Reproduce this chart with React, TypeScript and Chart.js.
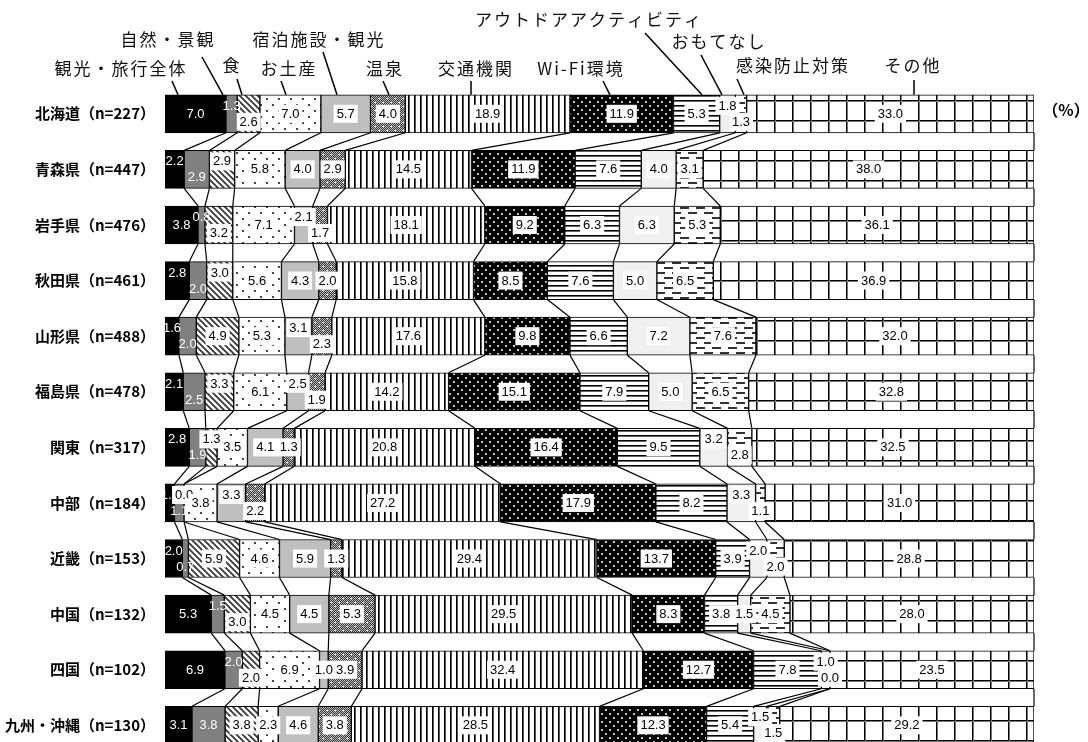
import React, { useEffect, useRef } from 'react';
import { Chart, registerables } from 'chart.js';

Chart.register(...registerables);

// ---------------- data ----------------
const regionLabels = [
  '北海道（n=227）',
  '青森県（n=447）',
  '岩手県（n=476）',
  '秋田県（n=461）',
  '山形県（n=488）',
  '福島県（n=478）',
  '関東（n=317）',
  '中部（n=184）',
  '近畿（n=153）',
  '中国（n=132）',
  '四国（n=102）',
  '九州・沖縄（n=130）',
];

const seriesNames = [
  '観光・旅行全体',
  '自然・景観',
  '食',
  'お土産',
  '宿泊施設・観光',
  '温泉',
  '交通機関',
  'Wi-Fi環境',
  'アウトドアアクティビティ',
  'おもてなし',
  '感染防止対策',
  'その他',
];

const kankou = [7.0, 2.2, 3.8, 2.8, 1.6, 2.1, 2.8, 1.1, 2.0, 5.3, 6.9, 3.1];
const shizen = [1.3, 2.9, 0.8, 2.0, 2.0, 2.5, 1.9, 1.1, 0.7, 1.5, 2.0, 3.8];
const shoku = [2.6, 2.9, 3.2, 3.0, 4.9, 3.3, 1.3, 0.0, 5.9, 3.0, 2.0, 3.8];
const omiyage = [7.0, 5.8, 7.1, 5.6, 5.3, 6.1, 3.5, 3.8, 4.6, 4.5, 6.9, 2.3];
const shukuhaku = [5.7, 4.0, 2.1, 4.3, 3.1, 2.5, 4.1, 3.3, 5.9, 4.5, 1.0, 4.6];
const onsen = [4.0, 2.9, 1.7, 2.0, 2.3, 1.9, 1.3, 2.2, 1.3, 5.3, 3.9, 3.8];
const koutsu = [18.9, 14.5, 18.1, 15.8, 17.6, 14.2, 20.8, 27.2, 29.4, 29.5, 32.4, 28.5];
const wifi = [11.9, 11.9, 9.2, 8.5, 9.8, 15.1, 16.4, 17.9, 13.7, 8.3, 12.7, 12.3];
const outdoor = [5.3, 7.6, 6.3, 7.6, 6.6, 7.9, 9.5, 8.2, 3.9, 3.8, 7.8, 5.4];
const omotenashi = [1.8, 4.0, 6.3, 5.0, 7.2, 5.0, 3.2, 3.3, 2.0, 1.5, 1.0, 1.5];
const kansen = [1.3, 3.1, 5.3, 6.5, 7.6, 6.5, 2.8, 1.1, 2.0, 4.5, 0.0, 1.5];
const sonota = [33.0, 38.0, 36.1, 36.9, 32.0, 32.8, 32.5, 31.0, 28.8, 28.0, 23.5, 29.2];

const seriesValues = [
  kankou, shizen, shoku, omiyage, shukuhaku, onsen,
  koutsu, wifi, outdoor, omotenashi, kansen, sonota,
];

// ---------------- layout of the header annotations (page px) ----------------
const headerLayout = [
  { x: 120, y: 69, lx: 172, ly: 81, tx: 178 },
  { x: 167, y: 40, lx: 202, ly: 57, tx: 223 },
  { x: 231, y: 66, lx: 237, ly: 79, tx: 242 },
  { x: 288, y: 69, lx: 281, ly: 81, tx: 286 },
  { x: 318, y: 40, lx: 323, ly: 52, tx: 337 },
  { x: 384, y: 69, lx: 383, ly: 81, tx: 389 },
  { x: 475, y: 69, lx: 471, ly: 81, tx: 471 },
  { x: 580, y: 69, lx: 603, ly: 81, tx: 610 },
  { x: 588, y: 20, lx: 645, ly: 33, tx: 702 },
  { x: 718, y: 42, lx: 701, ly: 55, tx: 722 },
  { x: 792, y: 66, lx: 737, ly: 79, tx: 744 },
  { x: 912, y: 66, lx: 914, ly: 80, tx: 914 },
];

const CJK = '"Noto Sans CJK JP", "Noto Sans", sans-serif';
const NUM = '"Liberation Sans", Arial, sans-serif';

function makeTile(ctx: CanvasRenderingContext2D, w: number, h: number, draw: (g: CanvasRenderingContext2D) => void) {
  const c = document.createElement('canvas');
  c.width = w;
  c.height = h;
  const g = c.getContext('2d')!;
  draw(g);
  return ctx.createPattern(c, 'repeat')!;
}

function makeFills(ctx: CanvasRenderingContext2D) {
  const diag = makeTile(ctx, 6, 6, (g) => {
    g.fillStyle = '#fff';
    g.fillRect(0, 0, 6, 6);
    g.strokeStyle = '#333';
    g.lineWidth = 1.7;
    g.beginPath();
    g.moveTo(-1, -1); g.lineTo(7, 7);
    g.moveTo(-1, 5); g.lineTo(1, 7);
    g.moveTo(5, -1); g.lineTo(7, 1);
    g.stroke();
  });
  const sparseDots = makeTile(ctx, 12, 12, (g) => {
    g.fillStyle = '#fff';
    g.fillRect(0, 0, 12, 12);
    g.fillStyle = '#444';
    g.fillRect(2, 2, 2, 2);
    g.fillRect(8, 8, 2, 2);
  });
  const checker = makeTile(ctx, 8, 8, (g) => {
    for (let y = 0; y < 8; y++) {
      for (let x = 0; x < 8; x++) {
        g.fillStyle = (x + y) % 2 ? '#333' : '#c0c0c0';
        g.fillRect(x, y, 1, 1);
      }
    }
    g.fillStyle = '#fff';
    g.fillRect(2, 2, 2, 1);
    g.fillRect(6, 6, 2, 1);
  });
  const vertical = makeTile(ctx, 6, 6, (g) => {
    g.fillStyle = '#fff';
    g.fillRect(0, 0, 6, 6);
    g.fillStyle = '#000';
    g.fillRect(0, 0, 1, 6);
    g.fillStyle = '#555';
    g.fillRect(1, 0, 1, 6);
  });
  const darkDots = makeTile(ctx, 8, 8, (g) => {
    g.fillStyle = '#000';
    g.fillRect(0, 0, 8, 8);
    g.fillStyle = '#c8c8c8';
    g.fillRect(1, 1, 2, 2);
    g.fillRect(5, 5, 2, 2);
  });
  const horizontal = makeTile(ctx, 6, 5, (g) => {
    g.fillStyle = '#fff';
    g.fillRect(0, 0, 6, 5);
    g.fillStyle = '#000';
    g.fillRect(0, 0, 6, 1);
    g.fillStyle = '#666';
    g.fillRect(0, 1, 6, 1);
  });
  const dashes = makeTile(ctx, 16, 10, (g) => {
    g.fillStyle = '#fff';
    g.fillRect(0, 0, 16, 10);
    g.fillStyle = '#333';
    g.fillRect(0, 2, 9, 2);
    g.fillRect(8, 7, 8, 2);
    g.fillRect(0, 7, 1, 2);
  });
  const grid = makeTile(ctx, 18, 20, (g) => {
    g.fillStyle = '#fff';
    g.fillRect(0, 0, 18, 20);
    g.fillStyle = '#000';
    g.fillRect(0, 0, 1, 20);
    g.fillRect(0, 0, 18, 1);
    g.fillStyle = '#777';
    g.fillRect(1, 0, 1, 20);
    g.fillRect(0, 1, 18, 1);
  });
  return [
    '#000000', '#808080', diag, sparseDots, '#bfbfbf', checker,
    vertical, darkDots, horizontal, '#f0f0f0', dashes, grid,
  ];
}

function labelOffsets(row: number[]) {
  const TIGHT = 3.5;
  const res = row.map(() => 0);
  for (let j = 0; j < row.length; j++) {
    if (row[j] >= TIGHT) continue;
    const prevT = j > 0 && row[j - 1] < TIGHT;
    const nextT = j < row.length - 1 && row[j + 1] < TIGHT;
    if (!(prevT || nextT)) continue;
    res[j] = prevT && res[j - 1] === -1 ? 1 : -1;
  }
  return res;
}

function barBox(chart: any, j: number, i: number) {
  const el = chart.getDatasetMeta(j).data[i];
  const p = el.getProps(['x', 'y', 'base', 'height'], true);
  return p as { x: number; y: number; base: number; height: number };
}

const seriesLinesPlugin = {
  id: 'seriesLines',
  afterDatasetsDraw(chart: any) {
    const ctx = chart.ctx;
    const right = chart.chartArea.right;
    ctx.save();
    ctx.strokeStyle = '#000';
    ctx.lineWidth = 1.2;
    for (let i = 0; i < regionLabels.length - 1; i++) {
      for (let j = 0; j < seriesValues.length; j++) {
        const a = barBox(chart, j, i);
        const b = barBox(chart, j, i + 1);
        ctx.beginPath();
        ctx.moveTo(Math.min(a.x, right), a.y + a.height / 2);
        ctx.lineTo(Math.min(b.x, right), b.y - b.height / 2);
        ctx.stroke();
      }
    }
    ctx.restore();
  },
};

const valueLabelsPlugin = {
  id: 'valueLabels',
  afterDatasetsDraw(chart: any) {
    const ctx = chart.ctx;
    ctx.save();
    ctx.font = `13px ${NUM}`;
    ctx.textAlign = 'center';
    ctx.textBaseline = 'middle';
    for (let i = 0; i < regionLabels.length; i++) {
      const row = seriesValues.map((s) => s[i]);
      const offs = labelOffsets(row);
      for (let j = 0; j < seriesValues.length; j++) {
        const b = barBox(chart, j, i);
        const cx = (b.x + b.base) / 2;
        const cy = b.y + offs[j] * 8;
        const text = row[j].toFixed(1);
        const w = ctx.measureText(text).width;
        if (j >= 2) {
          ctx.fillStyle = '#fff';
          ctx.fillRect(cx - w / 2 - 3, cy - 9, w + 6, 18);
          ctx.fillStyle = '#000';
        } else {
          ctx.fillStyle = '#fff';
        }
        ctx.fillText(text, cx, cy + 0.5);
      }
    }
    ctx.restore();
  },
};

const headerPlugin = {
  id: 'header',
  afterDraw(chart: any) {
    const ctx = chart.ctx;
    const top = barBox(chart, 0, 0);
    const barTop = top.y - top.height / 2;
    ctx.save();
    ctx.fillStyle = '#111';
    ctx.font = `17px ${CJK}`;
    ctx.textAlign = 'center';
    ctx.textBaseline = 'middle';
    try { (ctx as any).letterSpacing = '2px'; } catch (e) { /* ignore */ }
    headerLayout.forEach((h, k) => {
      ctx.fillText(seriesNames[k], h.x + 1, h.y);
    });
    try { (ctx as any).letterSpacing = '0px'; } catch (e) { /* ignore */ }
    ctx.strokeStyle = '#000';
    ctx.lineWidth = 1.5;
    headerLayout.forEach((h) => {
      ctx.beginPath();
      ctx.moveTo(h.lx, h.ly);
      ctx.lineTo(h.tx, barTop);
      ctx.stroke();
    });
    ctx.font = `bold 16px ${CJK}`;
    ctx.fillStyle = '#000';
    ctx.fillText('（%）', 1066, top.y - 4);
    ctx.restore();
  },
};

export default function App() {
  const ref = useRef<HTMLCanvasElement>(null);

  useEffect(() => {
    const canvas = ref.current!;
    const ctx = canvas.getContext('2d')!;
    const fills = makeFills(ctx);
    const rowTotals = regionLabels.map((_, i) => seriesValues.reduce((s, arr) => s + arr[i], 0));

    const datasets = seriesValues.map((vals, j) => ({
      label: seriesNames[j],
      data: vals.map((v, i) => ({ x: (v / rowTotals[i]) * 100, y: i })),
      backgroundColor: fills[j] as any,
      borderColor: '#000',
      borderWidth: 1,
      borderSkipped: false as any,
      barThickness: 38,
    }));

    const chart = new Chart(ctx, {
      type: 'bar',
      data: { datasets } as any,
      options: {
        indexAxis: 'y',
        animation: false,
        responsive: false,
        maintainAspectRatio: false,
        layout: { padding: { left: 0, right: 54, top: 86, bottom: 0 } },
        scales: {
          x: {
            type: 'linear',
            min: 0,
            max: 100,
            stacked: true,
            display: false,
          },
          y: {
            type: 'linear',
            min: -0.5,
            max: 11.3,
            reverse: true,
            stacked: true,
            offset: false,
            grid: { display: false, drawTicks: false, offset: false },
            border: { display: false },
            ticks: {
              stepSize: 1,
              includeBounds: false,
              autoSkip: false,
              maxTicksLimit: 30,
              padding: 10,
              color: '#000',
              font: { family: CJK, size: 15, weight: 'bold' },
              callback: (v: any) => (Number.isInteger(v) && regionLabels[v] ? regionLabels[v] : ''),
            },
            afterFit: (s: any) => {
              s.width = 165;
              s.paddingTop = 0;
              s.paddingBottom = 0;
            },
          },
        },
        plugins: {
          legend: { display: false },
          tooltip: { enabled: false },
        },
      } as any,
      plugins: [seriesLinesPlugin, valueLabelsPlugin, headerPlugin],
    });

    return () => chart.destroy();
  }, []);

  return (
    <div style={{ position: 'absolute', left: 0, top: 0, width: 1088, height: 742, background: '#fff', overflow: 'hidden' }}>
      <canvas ref={ref} width={1088} height={742} style={{ display: 'block' }} />
    </div>
  );
}
